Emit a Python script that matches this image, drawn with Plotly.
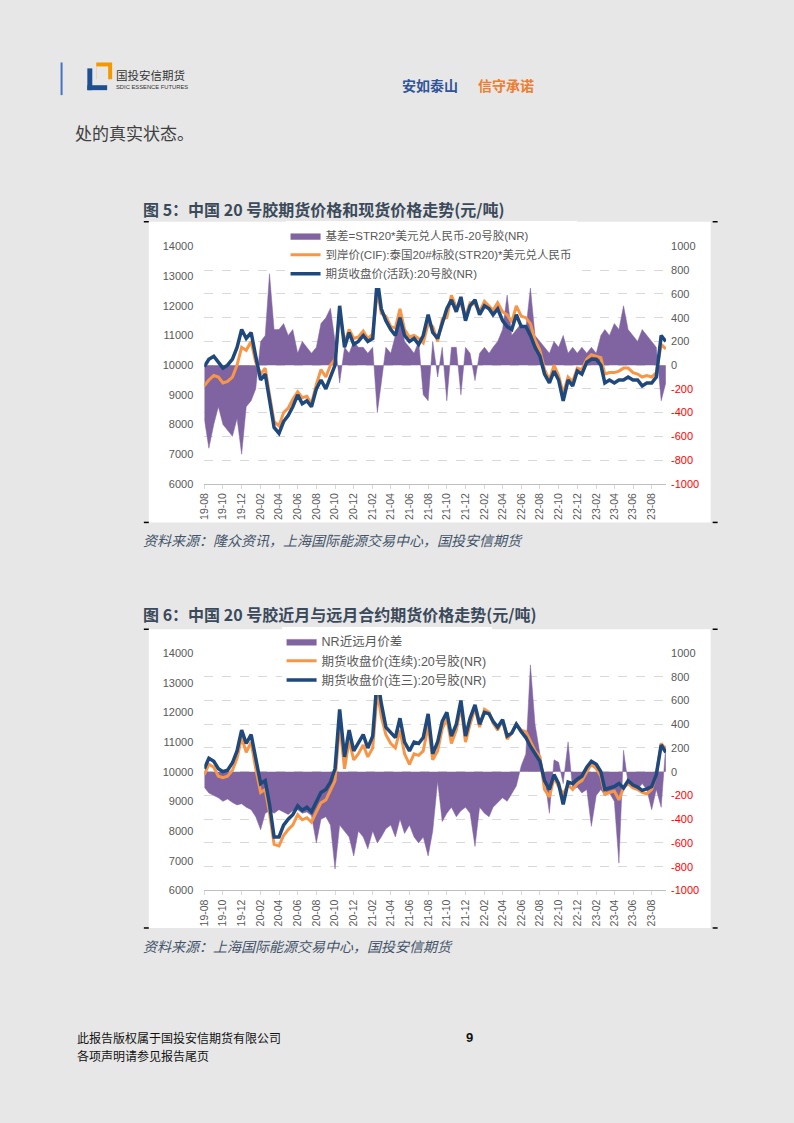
import plotly.graph_objects as go

# the page body keeps its default 8px margin, so the figure is drawn 16px smaller
# and all positions below are given in page pixels, shifted by that margin
PAGE_W, PAGE_H = 794, 1123
M = 8
W, H = PAGE_W - 2 * M, PAGE_H - 2 * M


def px(x):
    return (x - M) / W


def py(y):
    return 1 - (y - M) / H


# semi-monthly sampling points, 2019-08 .. 2023-09
months = [(y, m) for y in range(2019, 2024) for m in range(1, 13) if (2019, 8) <= (y, m) <= (2023, 9)]
dates = [f"{y}-{m:02d}-{d:02d}" for y, m in months for d in (1, 16)]

# ---- 图5 ----
# 基差 (right axis)
basis = [
    -450, -700, -500, -350, -500, -550, -600, -450, -750, -350,
    -300, -200, 200, 250, 770, 300, 300, 350, 250, 300, 100, 200, 150, 100,
    150, 350, 400, 480, 200, -150, 150, 100, 200, 150,
    150, 100, 150, -400, -150, 150, 100, 250, 430, 200, 150, 100,
    200, -250, -300, 200, -100, 150, -300, 150, 150, -250, 150, 100,
    -130, 100, 150, 100, 150, 200, 300, 590, 250, 300, 350, 300,
    650, 250, 200, 150, 100, 200, 150, 250, 100, 150, 100, 150,
    100, 150, 100, 250, 300, 250, 350, 300, 500, 300, 250, 200,
    300, 250, 200, 150, -300, -150,
]
# 到岸价(CIF)
cif = [
    9300, 9500, 9650, 9600, 9400, 9450, 9600, 10000, 10600, 10500,
    10800, 10100, 9700, 9900, 9000, 8100, 7950, 8400, 8550, 8850, 9100, 8900, 8950, 8700,
    9350, 9850, 9600, 10000, 10200, 11800, 10750, 11200, 10900, 10950,
    11150, 10900, 11050, 12500, 11750, 11650, 11300, 11250, 11900, 11200, 10950, 11000,
    10900, 10750, 11400, 11300, 10800, 11550, 11600, 12350, 11950, 12050, 11650, 12100,
    12050, 11800, 12150, 12000, 11850, 12100, 11800, 11700, 11450, 12000, 11650, 11600,
    11400, 10850, 10500, 9850, 9500, 10000, 9650, 9050, 9600, 9450, 9900, 9850,
    10200, 10350, 10300, 10250, 9700, 9750, 9750, 9800, 9900, 9900, 9750, 9700,
    9600, 9650, 9600, 9750, 10700, 10550,
]
# 期货收盘价(活跃)
fut_active = [
    9950, 10200, 10300, 10100, 9900, 10000, 10200, 10600, 11200, 10900,
    11100, 10300, 9500, 9700, 8800, 7900, 7700, 8100, 8300, 8600, 9000, 8700, 8800, 8600,
    9200, 9500, 9200, 9600, 10000, 12000, 10600, 11100, 10700, 10800,
    11000, 10800, 10900, 12900, 11900, 11500, 11200, 11000, 11600, 11000, 10800, 10900,
    10700, 11000, 11700, 11100, 10900, 11400, 11900, 12200, 11800, 12300, 11500, 12000,
    12200, 11700, 12000, 11900, 11700, 11900, 11500, 11300, 11200, 11700, 11300, 11300,
    11000, 10600, 10300, 9700, 9400, 9800, 9500, 8800, 9500, 9300, 9800, 9700,
    10100, 10200, 10200, 10000, 9400, 9500, 9400, 9500, 9500, 9600, 9500, 9500,
    9300, 9400, 9400, 9600, 11000, 10800,
]

# ---- 图6 ----
spread = [
    -130, -180, -200, -220, -250, -230, -260, -280, -270, -300,
    -320, -380, -490, -350, -330, -350, -320, -340, -360, -330, -320, -350, -340, -370,
    -600, -400, -380, -450, -820, -450, -500, -550, -710, -500,
    -550, -650, -500, -600, -550, -480, -450, -550, -400, -520, -450, -550,
    -600, -550, -710, -500, -80, -420, -350, -300, -380, -330, -300, -350,
    -630, -300, -350, -380, -300, -260, -220, -250, -180, -120, 50, 150,
    900, 400, 150, -50, -350, 100, 80, -100, 250, -150, -130, -180,
    -150, -460, -200, -150, -200, -180, -250, -770, 180, -100, -120, -150,
    -100, -150, -320, -150, -300, 220,
]
# 期货收盘价(连续)
fut_cont = [
    9900, 10250, 10150, 9850, 9800, 9850, 10050, 10450, 11150, 10650,
    11000, 10100, 9300, 9400, 8600, 7550, 7500, 7850, 8050, 8200, 8550, 8380, 8450, 8300,
    8650, 8950, 9050, 9350, 9700, 11600, 10100, 11050, 10400, 10600,
    10900, 10500, 10800, 12700, 11850, 11250, 10950, 10800, 11400, 10600, 10250, 10600,
    10550, 10700, 11550, 10400, 10700, 11450, 11800, 10950, 11400, 12200, 11000, 11600,
    12150, 11500, 12100, 12000, 11650, 11400, 11750, 11100, 11300, 11600, 11400, 11350,
    11000, 10700, 10500, 9400, 9150, 9800, 9500, 9250, 9550, 9400, 9600, 9700,
    10000, 10250, 10100, 9850, 9250, 9300, 9350, 9050, 9450, 9600, 9450, 9400,
    9300, 9250, 9400, 9900, 10950, 10750,
]
# 期货收盘价(连三)
fut_third = [
    10100, 10450, 10350, 10100, 10000, 10050, 10300, 10700, 11400, 10950,
    11250, 10400, 9600, 9700, 8900, 7800, 7800, 8200, 8400, 8550, 8850, 8700, 8800, 8650,
    9000, 9300, 9400, 9650, 10100, 12100, 10500, 11400, 10700, 10950,
    11250, 10800, 11200, 13200, 12300, 11500, 11300, 11150, 11800, 11000, 10700, 11000,
    10950, 11150, 11950, 10600, 11000, 11700, 12000, 11200, 11600, 12400, 11200, 11800,
    12250, 11600, 12000, 11950, 11700, 11500, 11750, 11200, 11300, 11600, 11350, 11150,
    10850, 10600, 10350, 9700, 9400, 9900, 9600, 8900, 9650, 9600, 9750, 9850,
    10150, 10350, 10250, 10000, 9400, 9450, 9500, 9600, 9450, 9700, 9550, 9480,
    9370, 9420, 9500, 9900, 10900, 10650,
]

PURPLE = "#8064a2"
ORANGE = "#f79646"
BLUE = "#1f497d"
GRID = "#d9d9d9"
TICK = "#595959"
PAGE_BG = "#e7e7e7"
NUM_FONT = "Liberation Sans, Arial, sans-serif"
CJK = "Noto Sans CJK SC, sans-serif"

fig = go.Figure()

# chart 1
fig.add_trace(go.Scatter(x=dates, y=basis, name="基差=STR20*美元兑人民币-20号胶(NR)",
                         mode="lines", line=dict(color=PURPLE, width=0.5),
                         fill="tozeroy", fillcolor=PURPLE, xaxis="x", yaxis="y", legend="legend"))
fig.add_trace(go.Scatter(x=dates, y=cif, name="到岸价(CIF):泰国20#标胶(STR20)*美元兑人民币",
                         mode="lines", line=dict(color=ORANGE, width=3),
                         xaxis="x", yaxis="y2", legend="legend"))
fig.add_trace(go.Scatter(x=dates, y=fut_active, name="期货收盘价(活跃):20号胶(NR)",
                         mode="lines", line=dict(color=BLUE, width=3.5),
                         xaxis="x", yaxis="y2", legend="legend"))

# chart 2
fig.add_trace(go.Scatter(x=dates, y=spread, name="NR近远月价差",
                         mode="lines", line=dict(color=PURPLE, width=0.5),
                         fill="tozeroy", fillcolor=PURPLE, xaxis="x2", yaxis="y3", legend="legend2"))
fig.add_trace(go.Scatter(x=dates, y=fut_cont, name="期货收盘价(连续):20号胶(NR)",
                         mode="lines", line=dict(color=ORANGE, width=3),
                         xaxis="x2", yaxis="y4", legend="legend2"))
fig.add_trace(go.Scatter(x=dates, y=fut_third, name="期货收盘价(连三):20号胶(NR)",
                         mode="lines", line=dict(color=BLUE, width=3.5),
                         xaxis="x2", yaxis="y4", legend="legend2"))

right_vals = list(range(-1000, 1001, 200))
right_text = [f'<span style="color:#ff0000">{v}</span>' if v < 0 else str(v) for v in right_vals]


def x_axis(anchor):
    return dict(domain=[px(199), px(665)], anchor=anchor, type="date",
                range=["2019-08-01", "2023-09-17"], tick0="2019-08-01", dtick="M2",
                tickformat="%y-%m", tickangle=-90, ticks="outside", ticklen=4,
                tickcolor=GRID, showline=True, linecolor="#bfbfbf", showgrid=False,
                tickfont=dict(family=NUM_FONT, size=10.5, color=TICK))


def right_axis(anchor, top, bottom):
    return dict(domain=[py(bottom), py(top)], anchor=anchor, side="right",
                range=[-1000, 1000], tickvals=right_vals, ticktext=right_text,
                showgrid=True, gridcolor=GRID, griddash="dash", zeroline=False,
                ticklabelstandoff=4, tickfont=dict(family=NUM_FONT, size=11, color=TICK))


def left_axis(anchor, over):
    return dict(overlaying=over, anchor=anchor, side="left", range=[6000, 14000],
                dtick=1000, tickformat="d", showgrid=False, zeroline=False,
                ticklabelstandoff=10, tickfont=dict(family=NUM_FONT, size=11, color=TICK))


def legend_box(x, y, size):
    return dict(x=px(x), y=py(y), xanchor="left", yanchor="top", bgcolor="white",
                borderwidth=0, tracegroupgap=0, itemwidth=30,
                font=dict(family="Liberation Sans, " + CJK, size=size, color=TICK))


shapes = []


def rect(x0, y0, x1, y1, color, layer="below"):
    shapes.append(dict(type="rect", xref="paper", yref="paper", x0=px(x0), x1=px(x1),
                       y0=py(y1), y1=py(y0), fillcolor=color, line=dict(width=0), layer=layer))


def seg(x0, y0, x1, y1, color, width):
    shapes.append(dict(type="line", xref="paper", yref="paper", x0=px(x0), x1=px(x1),
                       y0=py(y0), y1=py(y1), line=dict(color=color, width=width)))


# white chart boxes
rect(143, 218, 710, 522, "white")
rect(143, 630, 710, 932, "white")
for yy in (218, 522, 630, 932):
    seg(138, yy, 143, yy, "#000000", 1.5)
    seg(712, yy, 717, yy, "#000000", 1.5)

# header bar + logo
seg(55, 57, 55, 90, "#4472c4", 2)
rect(90, 57, 106, 74, "#f39800", "above")
rect(90, 61, 102, 80, PAGE_BG, "above")
rect(81, 63, 86, 85, "#1d4f91", "above")
rect(81, 80, 101, 85, "#1d4f91", "above")

annotations = []


def text(x, y, s, size, color, bold=False, italic=False, family=CJK, anchor="left"):
    if bold:
        s = f"<b>{s}</b>"
    if italic:
        s = f"<i>{s}</i>"
    annotations.append(dict(x=px(x), y=py(y), xref="paper", yref="paper", text=s,
                            showarrow=False, xanchor=anchor, yanchor="middle",
                            font=dict(family=family, size=size, color=color)))


text(108, 70, "国投安信期货", 11.5, "#333333")
text(108, 82, "SDIC ESSENCE FUTURES", 5.8, "#333333", family=NUM_FONT)
text(396, 80, "安如泰山", 14, "#2f5597", bold=True)
text(473, 80, "信守承诺", 14, "#ed7d31", bold=True)
text(67, 128, "处的真实状态。", 17, "#404040")
text(135, 205, "图 5：中国 20 号胶期货价格和现货价格走势(元/吨)", 16, "#3b4a5a", bold=True)
text(135, 540, "资料来源：隆众资讯，上海国际能源交易中心，国投安信期货", 14, "#44546a", italic=True)
text(135, 615, "图 6：中国 20 号胶近月与远月合约期货价格走势(元/吨)", 16, "#3b4a5a", bold=True)
text(135, 950, "资料来源：上海国际能源交易中心，国投安信期货", 14, "#44546a", italic=True)
text(69, 1043, "此报告版权属于国投安信期货有限公司", 12, "#111111")
text(69, 1061, "各项声明请参见报告尾页", 12, "#111111")
text(467, 1043, "9", 13, "#111111", bold=True, family=NUM_FONT, anchor="center")

fig.update_layout(
    width=W, height=H,
    margin=dict(l=0, r=0, t=0, b=0),
    paper_bgcolor=PAGE_BG,
    plot_bgcolor="white",
    font=dict(family=CJK, color=TICK),
    xaxis=x_axis("y"),
    yaxis=right_axis("x", 243, 483),
    yaxis2=left_axis("x", "y"),
    xaxis2=x_axis("y3"),
    yaxis3=right_axis("x2", 654, 894),
    yaxis4=left_axis("x2", "y3"),
    legend=legend_box(281, 217.5, 11.5),
    legend2=legend_box(277, 627.5, 12.5),
    shapes=shapes,
    annotations=annotations,
)

fig.write_html("out.html", config={"displayModeBar": False},
               post_script="document.body.style.background='%s';" % PAGE_BG)
